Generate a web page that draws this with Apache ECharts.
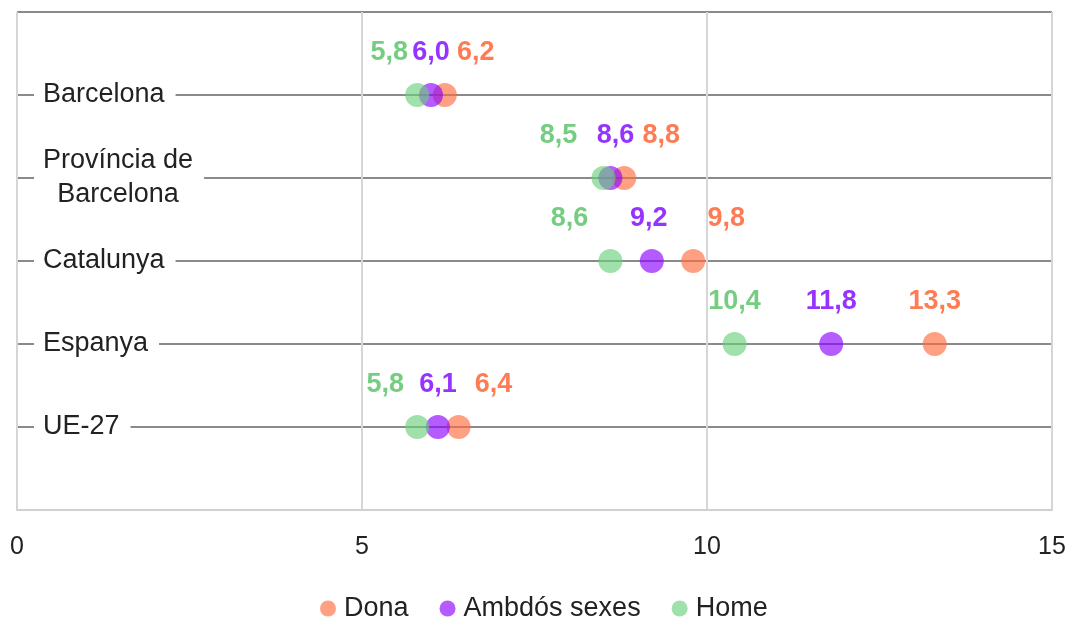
<!DOCTYPE html>
<html>
<head>
<meta charset="utf-8">
<script src="https://cdn.jsdelivr.net/npm/echarts@6/dist/echarts.min.js"></script>
<style>html,body{margin:0;padding:0;background:#fff}#c{width:1071px;height:620px}</style>
</head>
<body>
<div id="c"></div>
<script>
// ---- data ----
const categories = ['Barcelona', 'Província de\nBarcelona', 'Catalunya', 'Espanya', 'UE-27'];
const dona = [6.2, 8.8, 9.8, 13.3, 6.4];
const ambdos = [6.0, 8.6, 9.2, 11.8, 6.1];
const home = [5.8, 8.5, 8.6, 10.4, 5.8];
const seriesNames = ['Dona', 'Ambdós sexes', 'Home'];
const xTicks = [0, 5, 10, 15];

// ---- style / layout ----
const FONT = '"Liberation Sans", Arial, sans-serif';
const dotColors = ['rgba(255,107,61,0.8)', 'rgba(138,0,255,0.8)', 'rgba(107,207,122,0.8)'];
const labelColors = ['#ff5a28', '#7d00ff', '#52c062'];
// horizontal label shift (px) per series per category to avoid label overlap
const labelShift = [
  [31, 37, 33, 0, 35],
  [0, 5, -3, 0, 0],
  [-28, -45, -41, 0, -32]
];

const yCats = [''].concat(categories, ['']);
const values = [dona, ambdos, home];

const series = values.map((arr, si) => ({
  name: seriesNames[si],
  type: 'scatter',
  symbolSize: 24,
  z: 4 + si,
  itemStyle: { color: dotColors[si] },
  label: {
    show: true,
    position: 'top',
    distance: 17,
    fontFamily: FONT,
    fontSize: 27,
    fontWeight: 'bold',
    color: labelColors[si],
    formatter: p => p.value[0].toFixed(1).replace('.', ',')
  },
  labelLayout: p => ({ dx: labelShift[si][p.dataIndex] }),
  data: arr.map((v, i) => [v, categories[i]])
}));

const chart = echarts.init(document.getElementById('c'), null, { renderer: 'canvas' });
chart.setOption({
  animation: false,
  grid: { left: 17, right: 19, top: 12, bottom: 110, containLabel: false, outerBoundsMode: 'none' },
  legend: {
    top: 595,
    left: 320,
    padding: 0,
    icon: 'circle',
    itemWidth: 16,
    itemHeight: 16,
    itemGap: 31,
    textStyle: { fontFamily: FONT, fontSize: 27, color: '#222', padding: [0, 0, 0, 3] },
    data: seriesNames.map((n, i) => ({ name: n, itemStyle: { color: dotColors[i] } }))
  },
  xAxis: {
    type: 'value',
    min: xTicks[0],
    max: xTicks[xTicks.length - 1],
    interval: 5,
    axisLine: { show: true, lineStyle: { color: '#d0d0d0', width: 2 } },
    axisTick: { show: false },
    axisLabel: { fontFamily: FONT, fontSize: 25, color: '#222', margin: 25 },
    splitLine: { show: true, lineStyle: { color: '#d6d6d6', width: 2 } },
    z: 3
  },
  yAxis: {
    type: 'category',
    inverse: true,
    boundaryGap: false,
    data: yCats,
    axisLine: { show: false },
    axisTick: { show: false },
    splitLine: { show: true, interval: 0, lineStyle: { color: '#8a8a8a', width: 2 } },
    axisLabel: {
      inside: true,
      interval: (i, v) => v !== '',
      margin: 17,
      fontFamily: FONT,
      fontSize: 27,
      color: '#222',
      backgroundColor: '#fff',
      padding: [0, 11, 0, 9],
      lineHeight: 34,
      formatter: v => v.split('\n').map(l => '{c|' + l + '}').join('\n'),
      rich: { c: { fontFamily: FONT, fontSize: 27, color: '#222', align: 'center', lineHeight: 34 } }
    },
    z: 2
  },
  series: series
});
</script>
</body>
</html>
